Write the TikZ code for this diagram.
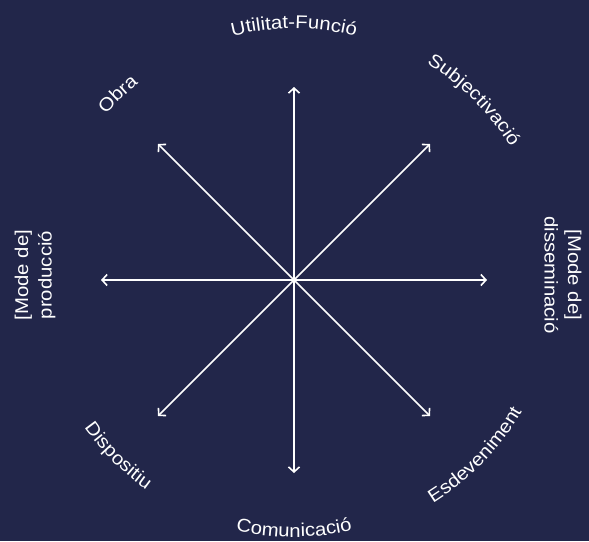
\documentclass[tikz,border=0pt]{standalone}
\usepackage{fontspec}
\newfontfamily\lab[FakeStretch=1.1]{Liberation Sans}
\newcommand\labfnt{\lab\fontsize{18.5}{23.5}\selectfont}
\usetikzlibrary{arrows.meta,decorations.text}
\definecolor{bg}{HTML}{22264A}
\begin{document}
\begin{tikzpicture}[x=1pt,y=1pt,
  axis/.style={draw=white, line width=1.6pt, -{Straight Barb[length=5pt,width=11pt]}},
  arclab/.style={decorate, decoration={text along path, text align=center,
     text format delimiters={|}{|},
     text={|\labfnt\color{white}|#1}}},
  sidelab/.style={text=white, font=\labfnt, align=center, inner sep=0pt}]
\fill[bg] (0,0) rectangle (589,-541);
\useasboundingbox (0,0) rectangle (589,-541);
\coordinate (c) at (294,-280);
\coordinate (n) at (294,-87);
\coordinate (s) at (294,-473);
\coordinate (w) at (101,-280);
\coordinate (e) at (487,-280);
\coordinate (nw) at (158,-144);
\coordinate (ne) at (430,-144);
\coordinate (sw) at (158,-416);
\coordinate (se) at (430,-416);
\foreach \t in {n,s,w,e,nw,ne,sw,se} \draw[axis] (c) -- (\t);
% clockwise labels (upper half)
\path[arclab={Utilitat-Funció}] ([shift={(118:251.5)}]c) arc[start angle=118, end angle=62, radius=251.5];
\path[arclab={Obra}] ([shift={(150:250.5)}]c) arc[start angle=150, end angle=117, radius=250.5];
\path[arclab={Subjectivació}] ([shift={(72:254)}]c) arc[start angle=72, end angle=18, radius=254];
% counterclockwise labels (lower half)
\path[arclab={Dispositiu}] ([shift={(200:256.5)}]c) arc[start angle=200, end angle=250, radius=256.5];
\path[arclab={Comunicació}] ([shift={(245:257)}]c) arc[start angle=245, end angle=295, radius=257];
\path[arclab={Esdeveniment}] ([shift={(285:263)}]c) arc[start angle=285, end angle=347, radius=263];
% side labels
\node[sidelab, rotate=90] (prod) at (35,-275) {[Mode de]\\producció};
\node[sidelab, rotate=-90] (diss) at (563,-275) {[Mode de]\\disseminació};
\end{tikzpicture}
\end{document}
